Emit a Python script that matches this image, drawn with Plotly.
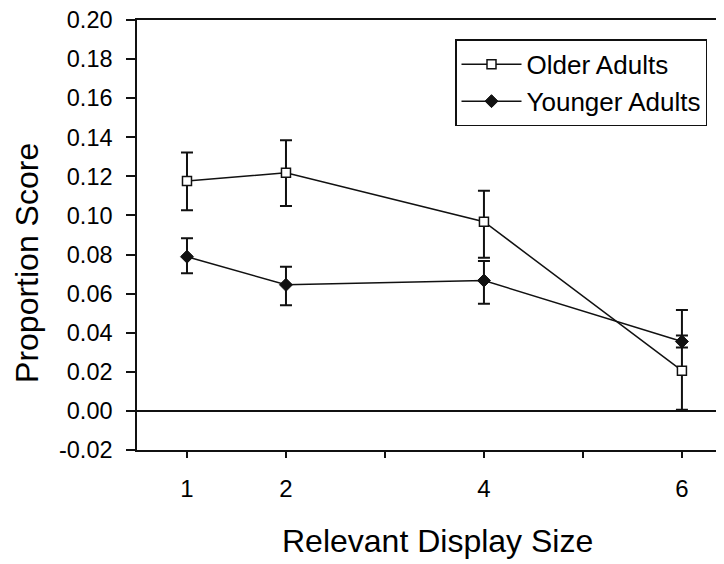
import plotly.graph_objects as go

display_size = [1, 2, 4, 6]
older_mean = [0.1176, 0.1218, 0.0968, 0.0206]
older_err_plus = [0.0146, 0.0167, 0.0158, 0.0310]
older_err_minus = [0.0149, 0.0170, 0.0184, 0.0200]
younger_mean = [0.0789, 0.0645, 0.0667, 0.0355]
younger_err_plus = [0.0094, 0.0092, 0.0100, 0.0031]
younger_err_minus = [0.0085, 0.0104, 0.0119, 0.0031]

x_tickvals = [1, 2, 3, 4, 5, 6]
x_ticktext = ["1", "2", "", "4", "", "6"]
y_tickvals = [-0.02, 0.0, 0.02, 0.04, 0.06, 0.08, 0.10, 0.12, 0.14, 0.16, 0.18, 0.20]
y_ticktext = ["-0.02", "0.00", "0.02", "0.04", "0.06", "0.08", "0.10",
              "0.12", "0.14", "0.16", "0.18", "0.20"]

FONT = "Liberation Sans, Arial, sans-serif"
INK = "#111111"

# page has an 8px body margin; figure coords = page coords - 8
W, H = 716, 556
L, R, T, B = 129, 0, 11.5, 113.5
PW, PH = W - L - R, H - T - B


def px(fx):
    return (fx - L) / PW


def py(fy):
    return (H - B - fy) / PH


fig = go.Figure()
fig.add_trace(go.Scatter(
    x=display_size, y=older_mean, name="Older Adults", mode="lines+markers",
    line=dict(color=INK, width=1.5),
    marker=dict(symbol="square", size=9, color="white", line=dict(color=INK, width=1.5)),
    error_y=dict(type="data", symmetric=False, array=older_err_plus, arrayminus=older_err_minus,
                 visible=True, color=INK, thickness=2, width=6),
))
fig.add_trace(go.Scatter(
    x=display_size, y=younger_mean, name="Younger Adults", mode="lines+markers",
    line=dict(color=INK, width=1.5),
    marker=dict(symbol="diamond", size=10, color=INK, line=dict(color=INK, width=1)),
    error_y=dict(type="data", symmetric=False, array=younger_err_plus, arrayminus=younger_err_minus,
                 visible=True, color=INK, thickness=2, width=6),
))

fig.update_layout(
    width=W, height=H,
    margin=dict(l=L, r=R, t=T, b=B, pad=0),
    paper_bgcolor="white", plot_bgcolor="white",
    font=dict(family=FONT, size=24, color="black"),
    showlegend=True,
    legend=dict(
        x=px(447), y=py(31), xanchor="left", yanchor="top",
        bordercolor=INK, borderwidth=1.5, bgcolor="white",
        font=dict(family=FONT, size=26, color="black"),
        itemwidth=60, tracegroupgap=0,
    ),
)
fig.update_xaxes(
    range=[0.495, 6.425], tickvals=x_tickvals, ticktext=x_ticktext,
    ticks="outside", ticklen=6, tickwidth=1.5, tickcolor=INK,
    showline=True, linecolor=INK, linewidth=1.5, mirror=True,
    showgrid=False, zeroline=False,
    tickfont=dict(family=FONT, size=24, color="black"),
    ticklabelstandoff=10,
)
fig.update_yaxes(
    range=[-0.02, 0.20], tickvals=y_tickvals, ticktext=y_ticktext,
    ticks="outside", ticklen=9, tickwidth=1.5, tickcolor=INK,
    showline=True, linecolor=INK, linewidth=1.5, mirror=False,
    showgrid=False, zeroline=True, zerolinecolor=INK, zerolinewidth=1.5,
    tickfont=dict(family=FONT, size=23.5, color="black"),
    ticklabelstandoff=9, ticklabeloverflow="allow",
)
fig.add_annotation(text="Relevant Display Size", xref="paper", yref="paper",
                   x=px(429.7), y=py(534), xanchor="center", yanchor="middle",
                   showarrow=False, font=dict(family=FONT, size=32, color="black"))
fig.add_annotation(text="Proportion Score", xref="paper", yref="paper",
                   x=px(19), y=py(255), xanchor="center", yanchor="middle",
                   textangle=-90, showarrow=False, font=dict(family=FONT, size=32, color="black"))

fig.write_html("out.html")
